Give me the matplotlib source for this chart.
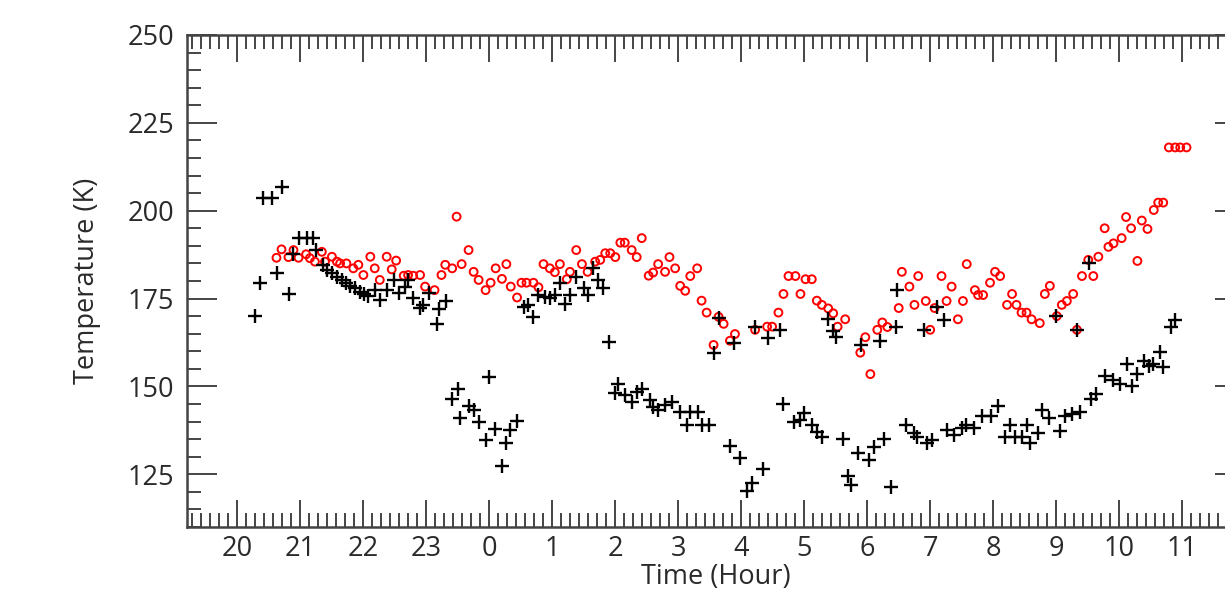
import matplotlib
matplotlib.use('Agg')
import matplotlib.pyplot as plt
from matplotlib.ticker import MultipleLocator, FuncFormatter

# time in hours since previous midnight (24+ = next day)
black_hour = [20.28, 20.36, 20.41, 20.55, 20.63, 20.71, 20.82, 20.88, 20.97, 21.10,
              21.20, 21.25, 21.36, 21.43, 21.50, 21.58, 21.66, 21.73, 21.79, 21.87,
              21.94, 22.01, 22.08, 22.18, 22.26, 22.37, 22.49, 22.57, 22.66, 22.71,
              22.79, 22.90, 22.94, 23.04, 23.17, 23.20, 23.31,
              23.41, 23.51, 23.53, 23.67, 23.75, 23.83, 23.94, 24.00, 24.09, 24.20,
              24.26, 24.33, 24.44,
              24.55, 24.62, 24.70, 24.78, 24.88, 24.96, 25.04, 25.12, 25.20, 25.28,
              25.38, 25.50, 25.57, 25.65, 25.73, 25.81, 25.90,
              26.00, 26.05, 26.15, 26.26, 26.34, 26.42, 26.55, 26.60, 26.68, 26.79,
              26.90, 27.03, 27.14, 27.19, 27.32, 27.37, 27.48,
              27.56, 27.64, 27.82, 27.88, 27.98, 28.09, 28.17, 28.22, 28.35, 28.43,
              28.62, 28.67, 28.83, 28.93, 29.00, 29.12, 29.20, 29.28, 29.38, 29.46,
              29.51, 29.62, 29.70, 29.75, 29.85, 29.90, 30.03, 30.11, 30.21, 30.26,
              30.37, 30.45, 30.48, 30.61, 30.74, 30.79, 30.90, 30.95, 31.03, 31.11,
              31.22, 31.27, 31.38, 31.51, 31.57, 31.70, 31.83, 31.97, 32.08, 32.19,
              32.27, 32.35, 32.45, 32.53, 32.58, 32.71, 32.77, 32.88, 32.99, 33.06,
              33.14, 33.25, 33.33, 33.38, 33.52, 33.56, 33.64, 33.78, 33.91, 34.02,
              34.12, 34.20, 34.28, 34.39, 34.47, 34.54, 34.65, 34.70, 34.83, 34.89]
black_temp = [170.0, 179.4, 203.6, 203.6, 182.3, 206.8, 176.3, 187.7, 192.2, 192.2,
              192.2, 188.8, 184.6, 183.1, 182.2, 181.2, 180.3, 179.5, 178.6, 177.9,
              177.0, 176.3, 175.7, 177.4, 174.6, 177.4, 180.3, 176.6, 178.4, 180.3,
              175.2, 172.3, 173.2, 176.6, 167.8, 172.0, 174.4,
              146.3, 149.2, 140.9, 144.4, 143.3, 139.9, 134.8, 152.6, 137.8, 127.4,
              133.9, 137.6, 140.1,
              172.7, 173.2, 169.8, 176.0, 175.5, 175.1, 176.0, 179.5, 173.5, 176.0,
              181.2, 177.9, 176.0, 183.6, 180.3, 177.9, 162.7,
              148.0, 150.8, 147.5, 145.6, 148.4, 149.4, 146.1, 144.2, 143.3, 144.7,
              145.6, 142.8, 139.0, 142.8, 142.8, 139.0, 139.0,
              159.4, 169.4, 133.0, 162.3, 129.7, 120.2, 122.6, 167.0, 126.6, 163.7,
              166.1, 145.1, 139.9, 140.5, 142.3, 139.0, 137.1, 135.7, 169.2, 165.9,
              164.0, 134.9, 124.4, 122.0, 131.0, 161.9, 129.0, 132.8, 162.8, 134.9,
              121.5, 167.0, 177.4, 139.0, 136.6, 135.7, 166.1, 133.8, 134.8, 172.7,
              168.9, 137.7, 136.3, 138.2, 139.1, 138.2, 141.5, 141.5, 144.3, 135.7,
              139.1, 135.7, 135.7, 139.1, 133.9, 136.8, 143.4, 141.0, 169.9, 137.3,
              141.6, 142.1, 166.1, 142.6, 185.0, 146.4, 147.8, 153.1, 151.7, 150.7,
              156.4, 150.2, 153.5, 157.3, 155.9, 156.4, 159.8, 155.5, 167.0, 168.9]

red_hour = [20.62, 20.70, 20.81, 20.89, 20.97, 21.09, 21.15, 21.23, 21.34, 21.39,
            21.50, 21.58, 21.63, 21.73, 21.84, 21.92, 22.00, 22.11, 22.18, 22.26,
            22.37, 22.45, 22.52, 22.64, 22.71, 22.79, 22.90, 22.98, 23.13, 23.24,
            23.30, 23.41, 23.48, 23.56, 23.67, 23.75, 23.83, 23.94, 24.02, 24.10,
            24.20, 24.27, 24.34, 24.44, 24.51, 24.59, 24.70, 24.78, 24.86, 24.96,
            25.04, 25.12, 25.23, 25.28, 25.38, 25.47, 25.56, 25.68, 25.76, 25.84,
            25.92, 26.00, 26.08, 26.15, 26.26, 26.34, 26.42, 26.53, 26.60, 26.68,
            26.79, 26.86, 26.95, 27.03, 27.11, 27.19, 27.30, 27.37, 27.45, 27.56,
            27.64, 27.72, 27.82, 27.90, 28.22, 28.41, 28.49, 28.59, 28.67, 28.75,
            28.86, 28.94, 29.02, 29.12, 29.20, 29.28, 29.38, 29.46, 29.53, 29.65,
            29.89, 29.97, 30.05, 30.16, 30.24, 30.32, 30.50, 30.55, 30.67, 30.75,
            30.81, 30.93, 31.00, 31.07, 31.18, 31.26, 31.34, 31.44, 31.52, 31.58,
            31.71, 31.76, 31.84, 31.95, 32.03, 32.11, 32.22, 32.30, 32.37, 32.45,
            32.53, 32.61, 32.74, 32.82, 32.90, 33.01, 33.09, 33.17, 33.27, 33.33,
            33.41, 33.51, 33.59, 33.67, 33.77, 33.83, 33.91, 34.04, 34.11, 34.19,
            34.29, 34.36, 34.45, 34.55, 34.62, 34.70, 34.79, 34.89, 34.97, 35.07]
red_temp = [186.6, 189.0, 186.8, 188.8, 186.6, 187.6, 186.5, 185.5, 188.3, 185.5,
            186.9, 185.5, 185.0, 185.0, 183.6, 184.6, 181.7, 186.9, 183.6, 180.3,
            186.9, 183.3, 185.8, 181.5, 181.7, 181.5, 181.7, 178.4, 177.4, 181.7,
            184.6, 183.6, 198.3, 184.8, 188.8, 182.6, 180.3, 177.4, 179.5, 183.6,
            180.6, 184.8, 178.4, 175.3, 179.5, 179.5, 179.5, 178.2, 184.8, 183.6,
            182.5, 184.8, 180.5, 182.6, 188.8, 184.8, 182.6, 185.5, 186.0, 187.9,
            187.9, 186.8, 190.9, 190.9, 188.8, 186.8, 192.2, 181.5, 182.4, 184.8,
            182.6, 186.8, 183.6, 178.6, 177.2, 181.4, 183.6, 174.4, 171.0, 161.8,
            169.8, 167.8, 163.0, 164.9, 166.1, 167.0, 167.0, 171.0, 176.3, 181.4,
            181.4, 176.3, 180.5, 180.5, 174.4, 173.2, 172.2, 170.8, 167.0, 169.1,
            159.6, 164.0, 153.5, 166.1, 168.2, 166.9, 172.3, 182.6, 178.4, 173.2,
            181.4, 174.3, 166.1, 172.3, 181.4, 174.3, 178.4, 169.1, 174.3, 184.8,
            177.4, 176.0, 176.0, 179.5, 182.6, 181.4, 173.2, 176.3, 173.2, 171.0,
            171.0, 169.1, 168.0, 176.3, 178.6, 170.0, 173.2, 174.3, 176.3, 166.1,
            181.4, 186.0, 181.4, 186.9, 195.0, 189.7, 190.7, 192.2, 198.2, 195.0,
            185.7, 197.2, 194.8, 200.2, 202.3, 202.3, 218.0, 218.0, 218.0, 218.0]

hour_ticks = list(range(20, 36))

plt.rcParams['font.family'] = ['Open Sans', 'DejaVu Sans']

fig = plt.figure(figsize=(12.25, 5.97), dpi=100)
# axes run past the right edge of the figure, as in the original
ax = fig.add_axes([0.1527, 0.1173, 0.8637, 0.8241])

ax.scatter(red_hour, red_temp, s=32, facecolors='none', edgecolors='red',
           linewidths=1.4, marker='o', zorder=2)
ax.scatter(black_hour, black_temp, s=110, c='black', marker='+',
           linewidths=1.7, zorder=3)

ax.set_xlim(19.2, 36.0)
ax.set_ylim(110, 250)

ax.set_xticks(hour_ticks)
ax.xaxis.set_major_formatter(FuncFormatter(lambda v, p: f'{int(round(v)) % 24}'))
ax.xaxis.set_minor_locator(MultipleLocator(1 / 7))
ax.yaxis.set_major_locator(MultipleLocator(25))
ax.yaxis.set_minor_locator(MultipleLocator(5))

edge = '#444444'
for s in ax.spines.values():
    s.set_linewidth(1.8)
    s.set_color(edge)

ax.tick_params(which='both', direction='in', top=True, right=True, color=edge,
               labelsize=19.5, labelcolor='#2a2a2a')
ax.tick_params(axis='x', which='major', length=19.5, width=1.4, pad=6)
ax.tick_params(axis='y', which='major', length=21.5, width=1.4, pad=9)
ax.tick_params(which='minor', length=10, width=1.4)

ax.set_xlabel('Time (Hour)', fontsize=19.5, color='#2a2a2a', labelpad=0)
ax.set_ylabel('Temperature (K)', fontsize=19.5, color='#2a2a2a')
ax.yaxis.set_label_coords(-0.081, 0.5)

fig.savefig('out.png', dpi=100)
